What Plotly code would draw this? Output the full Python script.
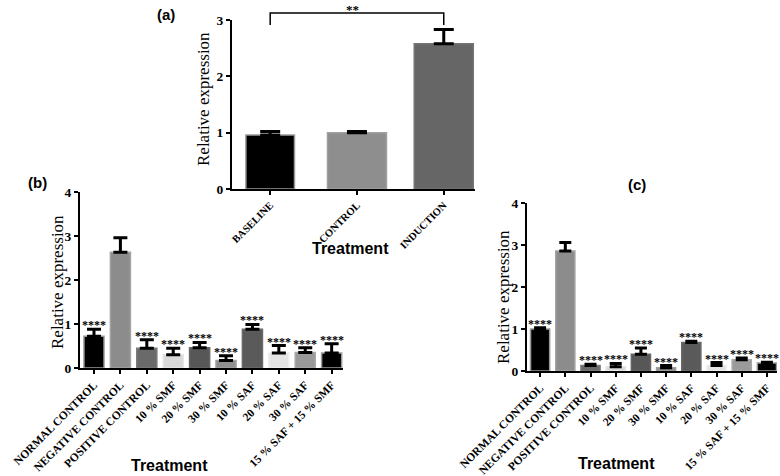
import plotly.graph_objects as go

# ---------------- data ----------------
a_categories = ["BASELINE", "CONTROL", "INDUCTION"]
a_values = [0.96, 1.00, 2.58]
a_errors = [0.06, 0.02, 0.25]

bc_categories = ["NORMAL CONTROL", "NEGATIVE CONTROL", "POSITIVE CONTROL",
                 "10 % SMF", "20 % SMF", "30 % SMF", "10 % SAF",
                 "20 % SAF", "30 % SAF", "15 % SAF + 15 % SMF"]
b_values = [0.72, 2.63, 0.45, 0.30, 0.46, 0.17, 0.88, 0.34, 0.35, 0.34]
b_errors = [0.16, 0.33, 0.19, 0.15, 0.12, 0.11, 0.11, 0.17, 0.11, 0.21]
b_signif = ["****", "", "****", "****", "****", "****", "****", "****", "****", "****"]

c_values = [1.00, 2.86, 0.13, 0.10, 0.40, 0.08, 0.68, 0.13, 0.27, 0.19]
c_errors = [0.03, 0.20, 0.03, 0.08, 0.15, 0.05, 0.03, 0.07, 0.04, 0.02]
c_signif = ["****", "", "****", "****", "****", "****", "****", "****", "****", "****"]

a_bracket = ("BASELINE", "INDUCTION", "**")

# ---------------- style ----------------
W, H = 780, 476
a_fill = ["#000000", "#8e8e8e", "#666666"]
a_line = ["#9a9a9a", "#a0a0a0", "#747474"]
bc_fill = ["#000000", "#8c8c8c", "#6a6a6a", "#d9d9d9", "#575757",
           "#8f8f8f", "#5a5a5a", "#e4e4e4", "#9a9a9a", "#000000"]
bc_line = ["#9a9a9a", "#a3a3a3", "#7a7a7a", "#e6e6e6", "#666666",
           "#a0a0a0", "#6a6a6a", "#eeeeee", "#a8a8a8", "#9a9a9a"]

SERIF = "Liberation Serif"
SANS = "Liberation Sans"


def px(x):
    return x / W


def py(y):
    return 1 - y / H


panels = {
    # name: (x domain px, y domain px (zero,top), x range, y range)
    "a": ((232, 475), (189, 20), (-0.44, 2.36), (0, 3)),
    "b": ((80, 343), (368, 192), (-0.53, 9.43), (0, 4)),
    "c": ((527, 777), (371, 203), (-0.52, 9.40), (0, 4)),
}

fig = go.Figure()

specs = [
    ("a", "x", "y", a_categories, a_values, a_errors, a_fill, a_line, [0.56, 0.68, 0.68], 10, 3),
    ("b", "x2", "y2", bc_categories, b_values, b_errors, bc_fill, bc_line, 0.76, 7, 3),
    ("c", "x3", "y3", bc_categories, c_values, c_errors, bc_fill, bc_line, 0.76, 6, 3),
]

for name, xa, ya, cats, vals, errs, fill, line, width, capw, thick in specs:
    fig.add_trace(go.Bar(
        x=cats, y=vals, xaxis=xa, yaxis=ya, width=width,
        marker=dict(color=fill, line=dict(color=line, width=1.5)),
        error_y=dict(type="data", array=errs, arrayminus=[0] * len(errs),
                     symmetric=False, color="black", thickness=thick, width=capw),
        showlegend=False, hoverinfo="skip",
    ))

axis_common = dict(showline=True, linecolor="black", linewidth=2, ticks="outside",
                   ticklen=4, tickwidth=1.5, tickcolor="black", showgrid=False,
                   zeroline=False, mirror=False, automargin=False)

layout_axes = {}
for i, (name, xa, ya, cats, *_rest) in enumerate(specs):
    (x0, x1), (yz, yt), xr, yr = panels[name]
    suffix = "" if i == 0 else str(i + 1)
    xsize = 10.5 if name == "a" else 11.5
    layout_axes["xaxis" + suffix] = dict(
        axis_common, domain=[px(x0), px(x1)], range=list(xr), anchor="y" + suffix,
        type="category", tickangle=-45,
        tickfont=dict(family=SERIF, size=xsize, color="black", weight="bold"))
    layout_axes["yaxis" + suffix] = dict(
        axis_common, domain=[py(yz), py(yt)], range=list(yr), anchor="x" + suffix,
        dtick=1, tickfont=dict(family=SERIF, size=13.5, color="black", weight="bold"))

annotations = []

# significance stars
for xa, ya, cats, vals, errs, sig in [("x2", "y2", bc_categories, b_values, b_errors, b_signif),
                                      ("x3", "y3", bc_categories, c_values, c_errors, c_signif)]:
    for c, v, e, s in zip(cats, vals, errs, sig):
        if s:
            annotations.append(dict(x=c, y=v + e, xref=xa, yref=ya, text=s, showarrow=False,
                                    yanchor="bottom", yshift=-5,
                                    font=dict(family=SERIF, size=12, color="black", weight="bold")))

# titles
for (xc, yc) in [(350, 248), (169, 465), (616, 463)]:
    annotations.append(dict(x=px(xc), y=py(yc), xref="paper", yref="paper", text="Treatment",
                            showarrow=False, xanchor="center", yanchor="middle",
                            font=dict(family=SANS, size=16, color="black", weight="bold")))
for (xc, yc) in [(203, 99), (57, 282), (503, 297)]:
    annotations.append(dict(x=px(xc), y=py(yc), xref="paper", yref="paper",
                            text="Relative expression", textangle=-90, showarrow=False,
                            xanchor="center", yanchor="middle",
                            font=dict(family=SERIF, size=17, color="black")))
for lab, (xc, yc) in [("(a)", (166, 14)), ("(b)", (37, 183)), ("(c)", (637, 185))]:
    annotations.append(dict(x=px(xc), y=py(yc), xref="paper", yref="paper", text=lab,
                            showarrow=False, xanchor="center", yanchor="middle",
                            font=dict(family=SANS, size=15, color="black", weight="bold")))

# bracket in panel (a), x positions from the category axis scale
(ax0, ax1), _, (ar0, ar1), _ = panels["a"]


def a_cat_to_paper(cat):
    i = a_categories.index(cat)
    return px(ax0 + (i - ar0) / (ar1 - ar0) * (ax1 - ax0))


bx0 = a_cat_to_paper(a_bracket[0])
bx1 = a_cat_to_paper(a_bracket[1])
btop, bbot = py(13), py(25)
shapes = [dict(type="path", xref="paper", yref="paper",
               path=f"M {bx0},{bbot} L {bx0},{btop} L {bx1},{btop} L {bx1},{bbot}",
               line=dict(color="black", width=1.5))]
annotations.append(dict(x=(bx0 + bx1) / 2 - px(4), y=btop, xref="paper", yref="paper",
                        text=a_bracket[2], showarrow=False, yanchor="bottom", yshift=-6,
                        font=dict(family=SERIF, size=13, color="black", weight="bold")))

fig.update_layout(
    width=W, height=H, margin=dict(l=0, r=0, t=0, b=0, autoexpand=False),
    paper_bgcolor="white", plot_bgcolor="white",
    annotations=annotations, shapes=shapes, bargap=0.3,
    **layout_axes,
)

fig.write_html("out.html", config={"displayModeBar": False},
               post_script="document.body.style.margin='0';document.body.style.overflow='hidden';")
